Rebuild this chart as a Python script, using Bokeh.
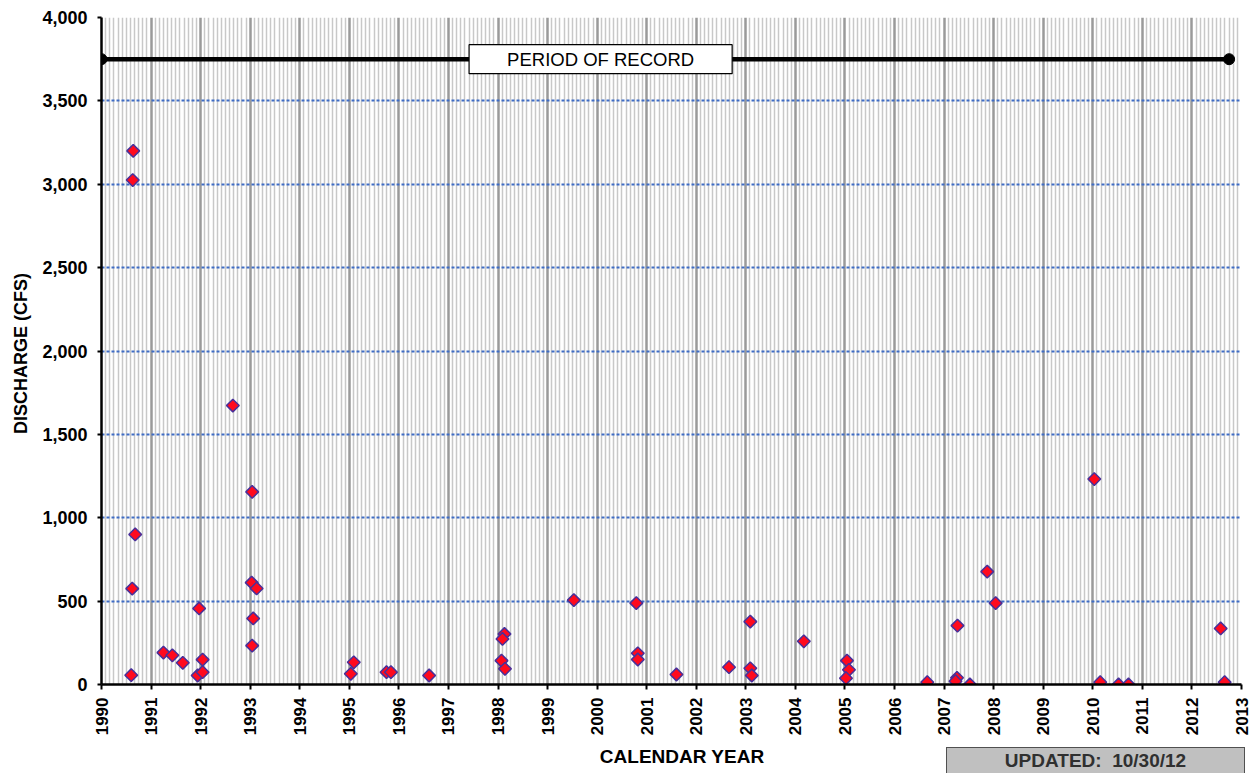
from bokeh.plotting import figure
from bokeh.models import Range1d, FixedTicker, NumeralTickFormatter, Label, Div, Spacer
from bokeh.layouts import column, row
from bokeh.embed import file_html
from bokeh.resources import INLINE
import math

# ---- data ----
years = [1990.64, 1990.63, 1990.68, 1990.62, 1990.60,
         1991.25, 1991.43, 1991.64, 1991.97, 1991.94, 1992.04, 1992.04,
         1992.65, 1993.04, 1993.03, 1993.13, 1993.06, 1993.04,
         1995.03, 1995.09, 1995.75, 1995.84, 1996.61,
         1998.13, 1998.09, 1998.07, 1998.14,
         1999.53, 2000.79, 2000.82, 2000.82, 2001.60,
         2002.66, 2003.09, 2003.09, 2003.12, 2004.17,
         2005.04, 2005.08, 2005.02, 2006.66,
         2007.27, 2007.26, 2007.23, 2007.52, 2007.87, 2008.04,
         2010.03, 2010.15, 2010.52, 2010.72, 2012.58, 2012.66]
discharge = [3200, 3025, 900, 575, 56,
             191, 175, 130, 456, 54, 74, 149,
             1673, 1155, 611, 576, 396, 233,
             64, 133, 74, 74, 54,
             303, 273, 143, 94,
             506, 488, 187, 150, 60,
             104, 377, 97, 54, 259,
             143, 88, 38, 14,
             353, 40, 20, 0, 677, 488,
             1232, 14, 0, 0, 336, 14]

period_x = [1990.0, 2012.75]
period_y = [3750, 3750]
period_label = "PERIOD OF RECORD"
updated_label = "UPDATED:&nbsp; 10/30/12"
x_title = "CALENDAR YEAR"
y_title = "DISCHARGE  (CFS)"

year_ticks = list(range(1990, 2014))
month_ticks = [y + m / 12 for y in range(1990, 2013) for m in range(1, 12)]
y_ticks = list(range(0, 4001, 500))

FONT = "Liberation Sans"

p = figure(width=1257, height=745, output_backend="svg", toolbar_location=None,
           x_range=Range1d(1990, 2013), y_range=Range1d(0, 4000),
           min_border_left=101, min_border_right=16, min_border_top=17, min_border_bottom=61)
p.outline_line_color = None
p.background_fill_color = "white"

# grids
p.xaxis.ticker = FixedTicker(ticks=year_ticks, minor_ticks=month_ticks)
p.yaxis.ticker = FixedTicker(ticks=y_ticks, minor_ticks=[])
p.xgrid.grid_line_color = "#9a9a9a"
p.xgrid.grid_line_width = 2.5
p.xgrid.minor_grid_line_color = "#c8c8c8"
p.xgrid.minor_grid_line_width = 1.5
p.ygrid.grid_line_color = "#3f6cc4"
p.ygrid.grid_line_width = 2
p.ygrid.grid_line_dash = "3 2"

# axes
for ax in (p.xaxis, p.yaxis):
    ax.axis_line_color = "black"
    ax.axis_line_width = 2.5
    ax.major_tick_line_color = "black"
    ax.major_tick_line_width = 2
    ax.major_tick_in = 0
    ax.minor_tick_line_color = None
    ax.major_label_text_font = FONT
    ax.major_label_text_font_style = "bold"
    ax.major_label_text_color = "black"
    ax.axis_label_text_font = FONT
    ax.axis_label_text_font_style = "bold"
    ax.axis_label_text_color = "black"

p.xaxis.major_label_text_font_size = "17px"
p.xaxis.major_tick_out = 5
p.xaxis.major_label_orientation = math.pi / 2
p.xaxis.major_label_standoff = 8

p.yaxis.major_label_text_font_size = "18px"
p.yaxis.major_tick_out = 4
p.yaxis.major_label_standoff = 10
p.yaxis.formatter = NumeralTickFormatter(format="0,0")
p.yaxis.axis_label = y_title
p.yaxis.axis_label_text_font_size = "18px"
p.yaxis.axis_label_standoff = 8

# period of record
p.line(period_x, period_y, line_color="black", line_width=4.5)
p.scatter(period_x, period_y, marker="circle", size=11, fill_color="black", line_color="black")
p.add_layout(Label(x=2000.07, y=3750, text=period_label, text_align="center", text_baseline="middle",
                   text_font=FONT, text_font_size="18.5px", text_color="black",
                   background_fill_color="white", border_line_color="black", border_line_width=1.2,
                   padding=(38, 4)))

# data points
p.scatter(years, discharge, marker="square", angle=math.pi / 4, size=9, fill_color="#ff0a1e",
          line_color="#48309a", line_width=1.5)

# bottom row: x axis title + updated box
title_div = Div(text=('<div style="width:240px;height:24px;line-height:24px;text-align:center;'
                      'font-family:\'Liberation Sans\';font-weight:bold;font-size:19px;color:black;">'
                      + x_title + '</div>'),
                width=240, height=27, margin=(0, 0, 0, 0))
box_div = Div(text=('<div style="box-sizing:border-box;margin-top:2px;width:299px;height:27px;line-height:25px;'
                    'text-align:center;background:#c0c0c0;border:1.5px solid #505050;'
                    'font-family:\'Liberation Sans\';font-weight:bold;font-size:19px;color:#303030;">'
                    + updated_label + '</div>'),
              width=299, height=27, margin=(0, 0, 0, 0))
bottom = row(Spacer(width=562, height=27), title_div, Spacer(width=144, height=27), box_div,
             spacing=0)
layout = column(p, bottom, spacing=0)

open("out.html", "w").write(file_html(layout, INLINE))
